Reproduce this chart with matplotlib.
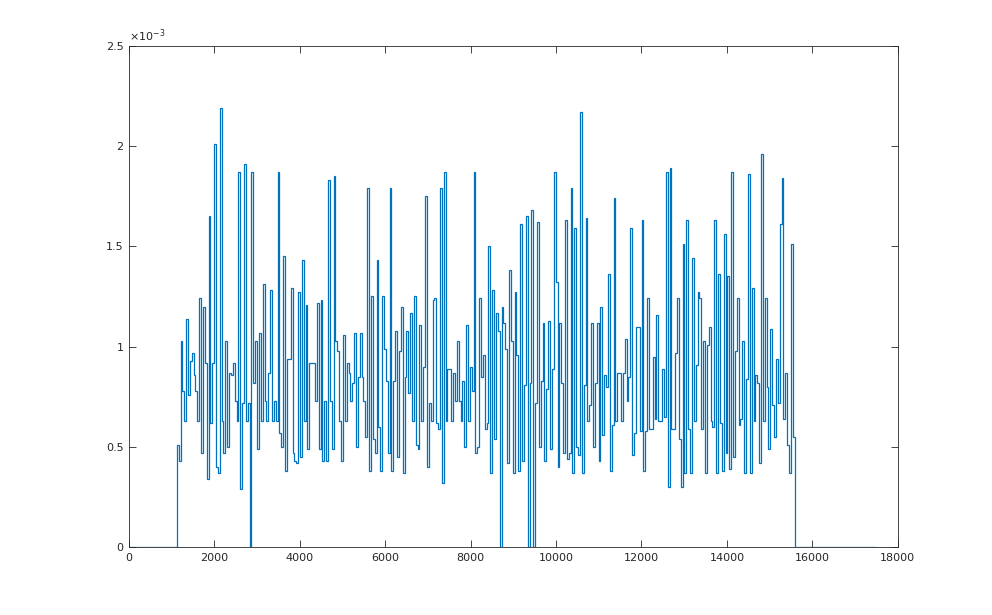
import numpy as np
import matplotlib
matplotlib.use('Agg')
import matplotlib.pyplot as plt
from matplotlib.ticker import FuncFormatter

# step heights (units of 1e-3) from left to right
vals_a = [0.51, 0.43, 1.03, 0.78, 0.63, 1.14, 0.76, 0.93, 0.97, 0.86,
          0.78, 0.63, 1.24, 0.47, 1.20, 0.92, 0.34,
          1.65, 0.62, 0.92, 2.01, 0.40, 0.37, 2.19, 0.63, 0.47, 1.03,
          0.50, 0.87, 0.86, 0.92, 0.73, 0.63, 1.87, 0.29, 0.72, 1.91,
          0.63, 0.72, 0.00, 1.87, 0.82, 1.03, 0.49, 1.07, 0.63, 1.31,
          0.73, 0.63, 0.87, 1.28, 0.63, 0.73, 0.63, 1.87, 0.57, 0.50,
          1.45, 0.38, 0.94, 0.94, 1.29, 0.47, 0.43, 0.42, 1.27, 0.45, 1.43,
          0.63, 1.21, 0.49, 0.92, 0.92, 0.92, 0.73, 1.22, 0.49, 1.23, 0.43,
          0.73, 0.43, 1.83, 0.73]
vals_b = [0.49, 1.85, 1.03, 0.98, 0.63, 0.43, 1.06, 0.63, 0.92, 0.87,
          0.73, 0.82, 1.07, 0.50, 0.85, 1.07, 0.85, 0.73, 0.55, 1.79,
          0.38, 1.25, 0.54, 0.47, 1.43, 0.60, 0.38, 1.25, 0.99, 0.83,
          0.47, 1.79, 0.38, 0.83, 1.08, 0.45, 0.98, 1.20, 0.37, 0.85,
          1.08, 0.77, 1.17, 0.63, 1.25, 0.51, 0.49, 1.11, 0.63, 0.90,
          1.75, 0.40, 0.72, 0.63, 1.23, 1.24, 0.62, 0.59, 1.79, 0.32,
          1.87, 0.63, 0.89, 0.89, 0.63, 0.87, 0.73, 1.03, 0.73, 0.63,
          0.83, 0.50, 1.11, 0.63, 0.90, 0.78, 1.87, 0.47, 0.50, 1.24,
          0.85]
vals_c = [0.96, 0.59, 0.62, 1.50, 0.37, 1.28, 0.54, 1.17, 1.08, 0.00,
          1.20, 1.12, 0.99, 0.42, 1.38, 1.03, 0.37, 1.27, 0.96, 0.38,
          1.61, 0.43, 0.81, 1.65, 0.00, 0.82, 1.68, 0.00, 0.72, 1.62,
          0.50, 0.83, 1.12, 0.43, 0.79, 1.13, 0.49, 0.89, 1.87, 1.32,
          0.40, 1.12, 0.82, 0.47, 1.63, 0.44, 0.47, 1.79, 0.37, 1.59,
          0.50, 0.46, 2.17, 0.37, 0.81, 1.64, 0.63, 0.71, 1.12, 0.50,
          0.82, 1.12, 0.43, 1.20, 0.56, 0.86, 0.80, 1.36, 0.38, 0.61,
          1.74, 0.63, 0.87, 0.87, 0.63, 0.87, 1.04, 0.73, 0.85, 1.59,
          0.46, 0.57, 1.10, 1.10, 0.58]
vals_d = [1.63, 0.38, 0.58, 1.24, 0.59, 0.59, 0.95, 0.64, 1.16, 0.63,
          0.63, 0.89, 0.65, 1.87, 0.30, 1.89, 0.59, 0.59, 0.97, 1.24, 0.54,
          0.30, 1.51, 0.37, 1.63, 0.59, 0.37, 1.44, 0.63, 0.91, 1.27,
          1.24, 0.59, 1.03, 0.37, 1.01, 1.10, 0.63, 0.60, 1.63, 0.37,
          1.36, 0.62, 0.38, 1.56, 0.47, 1.35, 0.39, 1.87, 0.45, 0.98,
          1.24, 0.61, 0.64, 1.03, 0.37, 0.84, 1.86, 0.37, 1.29, 0.63,
          0.86, 0.82, 0.42, 1.96, 0.63, 1.24, 0.80, 0.49, 1.09, 0.71,
          0.55, 0.94, 0.72, 1.61, 1.84, 0.64, 0.87, 0.51, 0.37, 1.51,
          0.55]

x_start = 1120     # first nonzero step
bin_w = 43.7       # step width
x_end = 17500      # zero line runs on to here

vals = np.array(vals_a + vals_b + vals_c + vals_d) * 1e-3
edges = x_start + bin_w * np.arange(len(vals) + 1)

heights = np.concatenate([[0], vals, [0]])
xs = np.concatenate([[0], edges, [x_end]])

fig = plt.figure(figsize=(9.92, 6.15), dpi=100)
ax = fig.add_axes([0.13, 0.1106, 0.775, 0.8146])

ax.stairs(heights, xs, baseline=None, color='#0072BD', linewidth=0.9)

ax.set_xlim(0, 18000)
ax.set_ylim(0, 2.5e-3)
ax.set_xticks(np.arange(0, 18001, 2000))
ax.set_yticks(np.arange(0, 2.51e-3, 0.5e-3))
ax.yaxis.set_major_formatter(FuncFormatter(lambda v, p: f"{v * 1e3:g}"))

ax.tick_params(direction='in', length=5, width=0.6, top=True, right=True,
               labelsize=8, colors='#262626', pad=4)
for s in ax.spines.values():
    s.set_color('#262626')
    s.set_linewidth(0.6)

ax.text(0.0, 1.003, r'$\times10^{-3}$', transform=ax.transAxes,
        fontsize=8, color='#262626', ha='left', va='bottom')

fig.savefig('out.png', dpi=100)
